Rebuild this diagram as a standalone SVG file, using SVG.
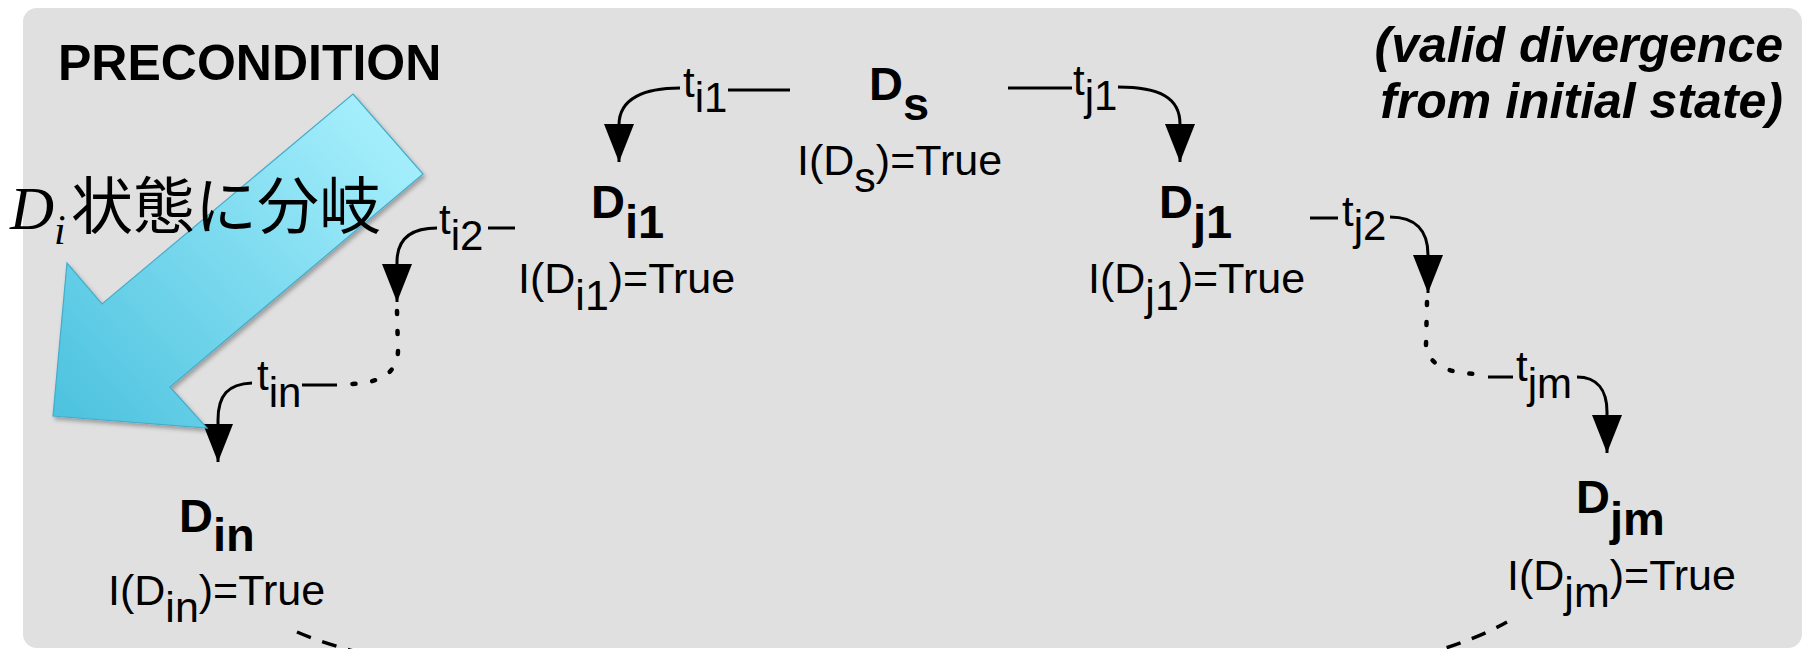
<svg xmlns="http://www.w3.org/2000/svg" width="1810" height="649" viewBox="0 0 1810 649">
  <defs>
    <style>
      .bold { font-family: "Liberation Sans", Arial, sans-serif; font-weight: bold; fill: #000; }
      .node { font-family: "Liberation Sans", Arial, sans-serif; font-weight: bold; font-size: 47px; fill: #000; }
      .inv { font-family: "Liberation Sans", Arial, sans-serif; font-size: 43px; fill: #000; }
      .tl { font-family: "Liberation Sans", Arial, sans-serif; font-size: 42px; fill: #000; }
      .edge { fill: none; stroke: #000; stroke-width: 3; }
      .dotted { fill: none; stroke: #000; stroke-width: 4.5; stroke-linecap: round; stroke-dasharray: 3 17; }
      .dashed { fill: none; stroke: #000; stroke-width: 3.5; stroke-dasharray: 15 12; }
    </style>
    <marker id="ah" viewBox="0 0 38 30" markerWidth="38" markerHeight="30" refX="38" refY="15" markerUnits="userSpaceOnUse" orient="auto">
      <path d="M0,0 L38,15 L0,30 z" fill="#000"/>
    </marker>
    <linearGradient id="blue" gradientUnits="userSpaceOnUse" x1="400" y1="120" x2="70" y2="420">
      <stop offset="0" stop-color="#a8f0fd"/>
      <stop offset="1" stop-color="#4ec3df"/>
    </linearGradient>
    <filter id="shadow" x="-10%" y="-10%" width="130%" height="130%">
      <feDropShadow dx="2" dy="3" stdDeviation="2" flood-color="#000" flood-opacity="0.3"/>
    </filter>
  </defs>

  <rect x="0" y="0" width="1810" height="649" fill="#ffffff"/>
  <rect id="panel" x="23" y="8" width="1779" height="640" rx="14" ry="14" fill="#e0e0e0"/>

  <g id="title">
    <text class="bold" x="58" y="80" font-size="50">PRECONDITION</text>
  </g>
  <g id="note">
    <text class="bold" font-style="italic" font-size="50" text-anchor="end" x="1783" y="62">(valid divergence</text>
    <text class="bold" font-style="italic" font-size="50" text-anchor="end" x="1783" y="118">from initial state)</text>
  </g>

  <g id="connectors">
    <!-- Ds -> Di1 -->
    <path class="edge" d="M790 90 L728 90"/>
    <path class="edge" d="M680 88 C645 88 619 98 619 125 L619 162" marker-end="url(#ah)"/>
    <text class="tl" x="683" y="97">t<tspan dy="15">i1</tspan></text>
    <!-- Ds -> Dj1 -->
    <path class="edge" d="M1008 88 L1072 88"/>
    <path class="edge" d="M1118 87 C1160 87 1180 98 1180 124 L1180 162" marker-end="url(#ah)"/>
    <text class="tl" x="1073" y="95">t<tspan dy="15">j1</tspan></text>
    <!-- Di1 -> ... -> Din -->
    <path class="edge" d="M515 228 L488 228"/>
    <path class="edge" d="M437 228 C410 228 397 240 397 262 L397 302" marker-end="url(#ah)"/>
    <text class="tl" x="439" y="234">t<tspan dy="16">i2</tspan></text>
    <path class="dotted" d="M397 311 L398 350 Q398 382 352 384"/>
    <path class="edge" d="M337 385 L302 385"/>
    <path class="edge" d="M252 383 C228 384 218 395 218 420 L218 462" marker-end="url(#ah)"/>
    <text class="tl" x="257" y="390">t<tspan dy="17">in</tspan></text>
    <!-- Dj1 -> ... -> Djm -->
    <path class="edge" d="M1310 218 L1338 218"/>
    <path class="edge" d="M1390 217 C1415 217 1428 230 1428 255 L1428 293" marker-end="url(#ah)"/>
    <text class="tl" x="1342" y="226">t<tspan dy="14">j2</tspan></text>
    <path class="dotted" d="M1427 302 L1426 345 Q1428 372 1476 374"/>
    <path class="edge" d="M1488 377 L1513 377"/>
    <path class="edge" d="M1577 377 C1597 377 1607 390 1607 412 L1607 453" marker-end="url(#ah)"/>
    <text class="tl" x="1516" y="381">t<tspan dy="17">jm</tspan></text>
    <!-- bottom dashed -->
    <path class="dashed" d="M297 632 C500 720 1300 740 1507 622"/>
  </g>

  <g id="node-Ds">
    <text class="node" x="869" y="100">D<tspan dy="20">s</tspan></text>
    <text class="inv" x="797" y="175">I(D<tspan dy="17">s</tspan><tspan dy="-17">)=True</tspan></text>
  </g>
  <g id="node-Di1">
    <text class="node" x="591" y="218">D<tspan dy="20">i1</tspan></text>
    <text class="inv" x="518" y="293">I(D<tspan dy="17">i1</tspan><tspan dy="-17">)=True</tspan></text>
  </g>
  <g id="node-Dj1">
    <text class="node" x="1159" y="218">D<tspan dy="20">j1</tspan></text>
    <text class="inv" x="1088" y="293">I(D<tspan dy="17">j1</tspan><tspan dy="-17">)=True</tspan></text>
  </g>
  <g id="node-Din">
    <text class="node" x="179" y="532">D<tspan dy="19">in</tspan></text>
    <text class="inv" x="108" y="605">I(D<tspan dy="17">in</tspan><tspan dy="-17">)=True</tspan></text>
  </g>
  <g id="node-Djm">
    <text class="node" x="1576" y="513">D<tspan dy="22">jm</tspan></text>
    <text class="inv" x="1507" y="590">I(D<tspan dy="17">jm</tspan><tspan dy="-17">)=True</tspan></text>
  </g>

  <g id="callout">
    <polygon points="353,94 423,174 170,387 207,428 53,416 67,263 102,304" fill="url(#blue)" stroke="#46accb" stroke-width="1.2" filter="url(#shadow)"/>
    <text x="10" y="229" font-family="'Liberation Serif', 'Times New Roman', serif" font-style="italic" font-size="61" fill="#000">D<tspan font-size="42" dy="15">i</tspan></text>
    <text x="71" y="229" font-family="'Noto Sans CJK JP', 'Noto Sans CJK SC', sans-serif" font-size="62" fill="#000">状態に分岐</text>
  </g>
</svg>
